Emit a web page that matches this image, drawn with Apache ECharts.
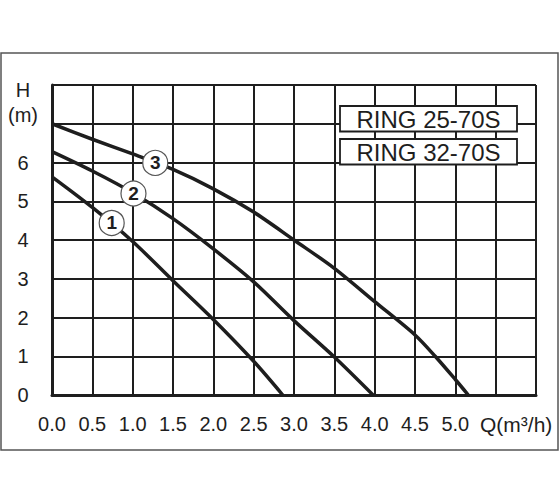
<!DOCTYPE html>
<html lang="en">

<head>
    <meta charset="UTF-8">
    <title>RING 25-70S / 32-70S</title>
    <style>
        html, body { margin: 0; padding: 0; background: #fff; }
    </style>
</head>

<body>
    <div id="main" style="width: 560px;height:504px;"></div>
    <script src="https://cdn.jsdelivr.net/npm/echarts@6/dist/echarts.min.js"></script>
    <script>
    // pump curves, Q (m3/h) -> H (m)
    var curve1 = [[0, 5.63], [0.5, 4.84], [1.0, 3.96], [1.5, 2.95], [2.0, 1.95], [2.5, 0.87], [2.86, 0]];
    var curve2 = [[0, 6.28], [0.5, 5.78], [1.0, 5.22], [1.5, 4.55], [2.0, 3.77], [2.5, 2.92], [3.0, 1.92], [3.5, 0.98], [3.98, 0]];
    var curve3 = [[0, 7.0], [0.5, 6.6], [1.0, 6.22], [1.5, 5.82], [2.0, 5.32], [2.5, 4.72], [3.0, 4.0], [3.5, 3.27], [4.0, 2.41], [4.5, 1.55], [4.75, 1.0], [5.0, 0.4], [5.16, 0]];
    // circled curve numbers
    var markers = [[0.74, 4.44, '1'], [1.01, 5.2, '2'], [1.28, 5.99, '3']];
    var models = ['RING 25-70S', 'RING 32-70S'];
    var xLabelMax = 5.0;
    var yLabelMax = 6;
    var yUnitLabels = { 7: '{m|(m)}', 8: '{h|H}' };
    var xUnitLabel = 'Q(m³/h)';

    var ink = '#1e1e1e';
    var font = 'Arial, "Liberation Sans", sans-serif';

    var myChart = echarts.init(document.getElementById('main'), null, { renderer: 'svg' });

    function curveSeries(data) {
        return {
            type: 'line',
            data: data,
            smooth: 0.3,
            showSymbol: false,
            silent: true,
            z: 3,
            lineStyle: { color: ink, width: 3.5 }
        };
    }

    var option = {
        animation: false,
        backgroundColor: '#fff',
        grid: {
            left: 52,
            top: 85,
            right: 24,
            bottom: 109
        },
        xAxis: {
            type: 'value',
            min: 0,
            max: 6,
            interval: 0.5,
            axisLine: { show: true, onZero: false, lineStyle: { color: ink, width: 3 } },
            axisTick: { show: false },
            axisLabel: {
                margin: 19,
                fontSize: 20,
                fontFamily: font,
                color: ink,
                showMaxLabel: true,
                formatter: function(v) {
                    return v <= xLabelMax ? v.toFixed(1) : '';
                }
            },
            splitLine: { show: true, lineStyle: { color: ink, width: 2 } }
        },
        yAxis: {
            type: 'value',
            min: 0,
            max: 8,
            interval: 1,
            axisLine: { show: true, onZero: false, lineStyle: { color: ink, width: 3 } },
            axisTick: { show: false },
            axisLabel: {
                margin: 29,
                align: 'center',
                fontSize: 20,
                fontFamily: font,
                color: ink,
                showMaxLabel: true,
                formatter: function(v) {
                    if (v <= yLabelMax) return String(v);
                    return yUnitLabels[v] || '';
                },
                rich: {
                    m: { fontSize: 20, fontFamily: font, color: ink, padding: [0, 0, 18, 0] },
                    h: { fontSize: 20, fontFamily: font, color: ink, padding: [10, 0, 0, 0] }
                }
            },
            splitLine: { show: true, lineStyle: { color: ink, width: 2 } }
        },
        graphic: [
            {
                type: 'rect',
                shape: { x: 1, y: 53, width: 557, height: 397 },
                style: { fill: 'none', stroke: '#555', lineWidth: 1.5 },
                z: -1
            },
            {
                type: 'text',
                x: 480,
                y: 424,
                style: { text: xUnitLabel, font: '21px ' + font, fill: ink, textVerticalAlign: 'middle', textAlign: 'left' }
            }
        ].concat(models.map(function(name, i) {
            var top = 106 + i * 33;
            return {
                type: 'group',
                z: 100,
                children: [{
                    type: 'rect',
                    z: 100,
                    shape: { x: 340, y: top, width: 177, height: 25.5 },
                    style: { fill: '#fff', stroke: ink, lineWidth: 1.8 }
                }, {
                    type: 'text',
                    z: 101,
                    x: 428.5,
                    y: top + 13,
                    style: { text: name, font: '24px ' + font, fill: ink, textAlign: 'center', textVerticalAlign: 'middle' }
                }]
            };
        })),
        series: [
            curveSeries(curve1),
            curveSeries(curve2),
            curveSeries(curve3),
            {
                type: 'scatter',
                data: markers,
                symbol: 'circle',
                symbolSize: 25,
                silent: true,
                z: 5,
                itemStyle: { color: '#fff', borderColor: '#555', borderWidth: 1.2, opacity: 1 },
                label: {
                    show: true,
                    position: 'inside',
                    formatter: function(p) { return p.value[2]; },
                    fontSize: 19,
                    fontWeight: 'bold',
                    fontFamily: font,
                    color: ink
                }
            }
        ]
    };

    myChart.setOption(option);
    </script>
</body>

</html>
